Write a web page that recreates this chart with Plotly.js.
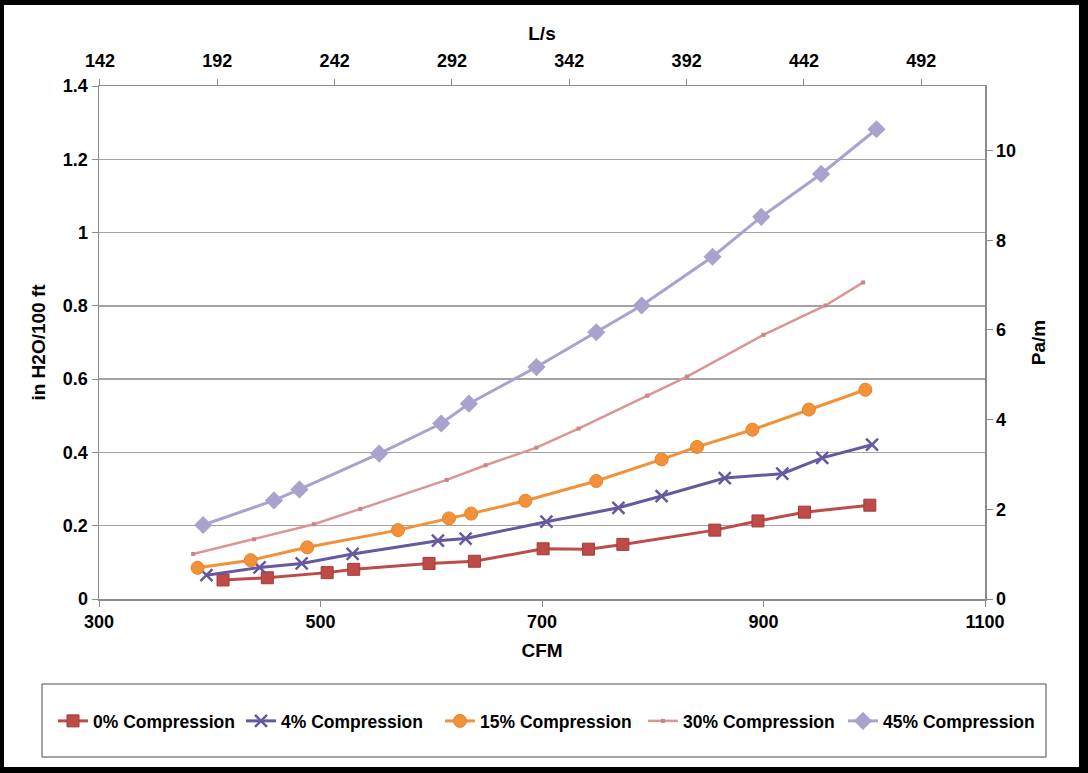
<!DOCTYPE html>
<html>
<head>
<meta charset="utf-8">
<script src="https://cdn.plot.ly/plotly-3.0.1.min.js"></script>
<style>
  html, body { margin: 0; padding: 0; background: #ffffff; }
  #chart { width: 1088px; height: 773px; }
</style>
</head>
<body>
<div id="chart"></div>
<script>
// Duct friction loss vs. airflow for several compression levels
var seriesNames = ['0% Compression', '4% Compression', '15% Compression', '30% Compression', '45% Compression'];

// Airflow (CFM) and friction loss (in H2O / 100 ft)
var cfm0  = [412, 452, 506, 530, 598, 639, 701, 742, 773, 856, 895, 937, 996];
var loss0 = [0.052, 0.058, 0.072, 0.081, 0.097, 0.103, 0.137, 0.136, 0.149, 0.188, 0.213, 0.237, 0.256];

var cfm4  = [397, 445, 483, 529, 606, 631, 704, 769, 808, 865, 917, 953, 998];
var loss4 = [0.065, 0.086, 0.097, 0.123, 0.159, 0.165, 0.211, 0.249, 0.281, 0.330, 0.342, 0.385, 0.421];

var cfm15  = [389, 437, 488, 570, 616, 636, 685, 749, 808, 840, 890, 941, 992];
var loss15 = [0.085, 0.106, 0.141, 0.188, 0.220, 0.233, 0.268, 0.322, 0.381, 0.415, 0.462, 0.517, 0.571];

var cfm30  = [385, 440, 494, 536, 614, 649, 695, 733, 795, 831, 900, 956, 990];
var loss30 = [0.123, 0.163, 0.204, 0.246, 0.325, 0.365, 0.413, 0.465, 0.555, 0.607, 0.721, 0.801, 0.864];

var cfm45  = [394, 458, 481, 553, 609, 634, 695, 749, 790, 854, 898, 952, 1002];
var loss45 = [0.202, 0.269, 0.299, 0.397, 0.479, 0.533, 0.633, 0.728, 0.801, 0.934, 1.043, 1.160, 1.282];

// Unit conversions for the secondary (SI) axes
var CFM_PER_LPS = 2.11888;                 // 1 L/s = 2.11888 CFM
var PAM_PER_INWG100FT = 249.089 / 30.48;   // 1 in H2O/100 ft = 8.172 Pa/m

var cfmRange = [300, 1100];
var lossRange = [0, 1.4];

var colors = {
  s0: '#BE4B48', s4: '#67589F', s15: '#F29138', s30: '#D99694', s45: '#A9A2CC'
};

var FONT = '"Liberation Sans", Arial, sans-serif';

var traces = [
  {
    x: cfm0, y: loss0, name: seriesNames[0], mode: 'lines+markers', legend: 'legend',
    line: { color: colors.s0, width: 3 },
    marker: { symbol: 'square', size: 12, color: colors.s0, line: { color: '#A33B38', width: 1 } }
  },
  {
    x: cfm4, y: loss4, name: seriesNames[1], mode: 'lines+markers', legend: 'legend2',
    line: { color: colors.s4, width: 3 },
    marker: { symbol: 'x-thin', size: 12, color: colors.s4, line: { color: colors.s4, width: 2.5 } }
  },
  {
    x: cfm15, y: loss15, name: seriesNames[2], mode: 'lines+markers', legend: 'legend3',
    line: { color: colors.s15, width: 3 },
    marker: { symbol: 'circle', size: 13, color: colors.s15, line: { color: '#E3832B', width: 1 } }
  },
  {
    x: cfm30, y: loss30, name: seriesNames[3], mode: 'lines+markers', legend: 'legend4',
    line: { color: colors.s30, width: 2.5 },
    marker: { symbol: 'square', size: 4, color: '#C98583' }
  },
  {
    x: cfm45, y: loss45, name: seriesNames[4], mode: 'lines+markers', legend: 'legend5',
    line: { color: colors.s45, width: 3 },
    marker: { symbol: 'diamond', size: 14, color: colors.s45 }
  },
  // Same 45% series expressed in SI units, carried on the secondary axes
  {
    x: cfm45.map(function (v) { return v / CFM_PER_LPS; }),
    y: loss45.map(function (v) { return v * PAM_PER_INWG100FT; }),
    xaxis: 'x2', yaxis: 'y2', mode: 'markers', showlegend: false, hoverinfo: 'skip',
    marker: { size: 1, opacity: 0 }
  }
];

// Page geometry helpers (plot area: 99..985 px wide, 86..599 px tall)
var L = 99, R = 985, T = 86, B = 599;
function px(xp) { return (xp - L) / (R - L); }
function py(yp) { return (B - yp) / (B - T); }

var axisGray = '#8C8C8C';
var tickFont = { family: FONT, size: 18, color: '#000000', weight: 'bold' };
var titleFont = { family: FONT, size: 19, color: '#000000', weight: 'bold' };
var legendFont = { family: FONT, size: 17.5, color: '#000000', weight: 'bold' };

function legendAt(left) {
  return {
    orientation: 'h', x: px(left), xanchor: 'left', y: py(721), yanchor: 'middle',
    font: legendFont, bgcolor: 'rgba(0,0,0,0)', borderwidth: 0, itemwidth: 30
  };
}

var layout = {
  width: 1088, height: 773,
  margin: { l: L, r: 1088 - R, t: T, b: 773 - B, pad: 0 },
  paper_bgcolor: '#ffffff', plot_bgcolor: '#ffffff',
  font: { family: FONT, color: '#000000' },
  showlegend: true,
  xaxis: {
    range: cfmRange, tick0: 300, dtick: 200, showgrid: false, zeroline: false,
    showline: true, linecolor: axisGray, linewidth: 1.5,
    ticks: 'outside', ticklen: 6, tickcolor: axisGray, tickwidth: 1,
    tickfont: tickFont,
    title: { text: 'CFM', font: titleFont, standoff: 12 }
  },
  yaxis: {
    range: lossRange, tick0: 0, dtick: 0.2, showgrid: true, gridcolor: '#A3A3A3', gridwidth: 1.5,
    zeroline: false, showline: true, linecolor: axisGray, linewidth: 1.5,
    ticks: 'outside', ticklen: 6, tickcolor: axisGray, tickwidth: 1,
    tickfont: tickFont,
    title: { text: 'in H2O/100 ft', font: titleFont, standoff: 12 }
  },
  xaxis2: {
    overlaying: 'x', side: 'top', anchor: 'y',
    range: [cfmRange[0] / CFM_PER_LPS, cfmRange[1] / CFM_PER_LPS],
    tick0: 142, dtick: 50, showgrid: false, zeroline: false,
    showline: true, linecolor: axisGray, linewidth: 1.5,
    ticks: 'outside', ticklen: 6, tickcolor: axisGray, tickwidth: 1,
    ticklabelstandoff: 4,
    tickfont: tickFont,
    title: { text: 'L/s', font: titleFont, standoff: 5 }
  },
  yaxis2: {
    overlaying: 'y', side: 'right', anchor: 'x',
    range: [lossRange[0] * PAM_PER_INWG100FT, lossRange[1] * PAM_PER_INWG100FT],
    tick0: 0, dtick: 2, showgrid: false, zeroline: false,
    showline: true, linecolor: axisGray, linewidth: 1.5,
    ticks: 'outside', ticklen: 6, tickcolor: axisGray, tickwidth: 1,
    tickfont: tickFont,
    title: { text: 'Pa/m', font: titleFont, standoff: 16 }
  },
  legend: legendAt(53),
  legend2: legendAt(241),
  legend3: legendAt(440),
  legend4: legendAt(643),
  legend5: legendAt(843),
  shapes: [
    // legend frame
    { type: 'rect', xref: 'paper', yref: 'paper', x0: px(42), x1: px(1046), y0: py(757), y1: py(684),
      line: { color: '#4A4A4A', width: 1 }, fillcolor: 'rgba(0,0,0,0)', layer: 'below' },
    // outer black frame
    { type: 'rect', xref: 'paper', yref: 'paper', x0: px(0), x1: px(4), y0: py(773), y1: py(0),
      line: { width: 0 }, fillcolor: '#000000' },
    { type: 'rect', xref: 'paper', yref: 'paper', x0: px(1079), x1: px(1088), y0: py(773), y1: py(0),
      line: { width: 0 }, fillcolor: '#000000' },
    { type: 'rect', xref: 'paper', yref: 'paper', x0: px(0), x1: px(1088), y0: py(5), y1: py(0),
      line: { width: 0 }, fillcolor: '#000000' },
    { type: 'rect', xref: 'paper', yref: 'paper', x0: px(0), x1: px(1088), y0: py(773), y1: py(767),
      line: { width: 0 }, fillcolor: '#000000' }
  ]
};

Plotly.newPlot('chart', traces, layout, { staticPlot: true, displayModeBar: false });
</script>
</body>
</html>
